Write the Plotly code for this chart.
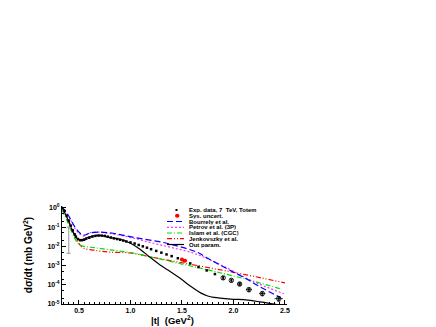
import plotly.graph_objects as go

# |t| in GeV^2, dsigma/dt in mb/GeV^2
exp_t = [0.36, 0.38, 0.40, 0.42, 0.44, 0.46, 0.47, 0.49, 0.51, 0.53, 0.55, 0.57, 0.60, 0.63,
         0.66, 0.69, 0.72, 0.75, 0.78, 0.81, 0.84, 0.87, 0.90, 0.93, 0.96, 1.00, 1.04,
         1.08, 1.12, 1.16, 1.20, 1.25, 1.30, 1.35, 1.40, 1.46, 1.52, 1.58, 1.66, 1.74, 1.82]
exp_y = [0.70, 0.40, 0.22, 0.12, 0.068, 0.042, 0.032, 0.024, 0.021, 0.021, 0.022, 0.025,
         0.028, 0.032, 0.035, 0.036, 0.036, 0.035, 0.032, 0.029, 0.026, 0.024, 0.022,
         0.020, 0.018, 0.016, 0.014, 0.0118, 0.0100, 0.0085, 0.0071, 0.0058, 0.0047,
         0.0038, 0.0031, 0.0024, 0.0018, 0.00130, 0.00085, 0.00056, 0.00036]

hi_t = [1.90, 1.98, 2.06, 2.15, 2.28, 2.44]
hi_y = [2.3e-4, 1.7e-4, 1.1e-4, 5.6e-5, 3.5e-5, 1.9e-5]
hi_err = [0.4e-4, 0.3e-4, 0.2e-4, 1.2e-5, 0.8e-5, 0.5e-5]
hi_terr = [0.0, 0.0, 0.02, 0.03, 0.03, 0.04]

gray_t = [0.40]
gray_y = [0.09]
gray_up = [0.01]
gray_dn = [0.0857]

sys_t = [1.50, 1.53]
sys_y = [0.0021, 0.0018]

out_t = [0.335, 0.394, 0.442, 0.481, 0.511, 0.55, 0.589, 0.64, 0.686, 0.74, 0.784, 0.90,
         1.00, 1.096, 1.193, 1.291, 1.389, 1.486, 1.584, 1.681, 1.75, 1.81, 1.974, 2.14,
         2.335, 2.44]
out_y = [1.12, 0.234, 0.055, 0.026, 0.021, 0.024, 0.0295, 0.035, 0.038, 0.035, 0.0295,
         0.0234, 0.0145, 0.0069, 0.0026, 0.00105, 4.8e-4, 2.1e-4, 8.3e-5, 3.8e-5, 2.6e-5,
         2.2e-5, 1.8e-5, 1.6e-5, 1.1e-5, 9.0e-6]

bou_t = [0.335, 0.394, 0.462, 0.511, 0.55, 0.60, 0.686, 0.83, 1.02, 1.35, 1.652, 1.75,
         1.88, 2.02, 2.13, 2.24, 2.46]
bou_y = [1.12, 0.43, 0.10, 0.048, 0.038, 0.048, 0.055, 0.048, 0.030, 0.0145, 0.0048,
         0.0024, 0.0010, 4.0e-4, 2.0e-4, 8.9e-5, 2.1e-5]

pet_t = [0.335, 0.40, 0.462, 0.511, 0.55, 0.60, 0.686, 0.785, 0.99, 1.19, 1.39, 1.62,
         1.89, 2.18, 2.49]
pet_y = [1.12, 0.37, 0.085, 0.042, 0.034, 0.050, 0.055, 0.048, 0.030, 0.016, 0.0089,
         0.0043, 0.0010, 1.6e-4, 3.4e-5]

isl_t = [0.335, 0.40, 0.45, 0.50, 0.55, 0.65, 0.80, 1.00, 1.20, 1.50, 1.80, 2.10, 2.45]
isl_y = [0.79, 0.14, 0.032, 0.0126, 0.010, 0.0085, 0.0066, 0.0047, 0.0028, 0.0012,
         5.2e-4, 2.1e-4, 6.3e-5]

jen_t = [0.335, 0.40, 0.45, 0.50, 0.55, 0.65, 0.80, 1.00, 1.20, 1.50, 1.80, 2.10, 2.50]
jen_y = [1.0, 0.22, 0.050, 0.014, 0.0079, 0.0063, 0.0050, 0.0045, 0.0028, 0.0014,
         7.1e-4, 3.5e-4, 1.26e-4]

# the page body adds an 8px margin, so the figure is laid out 8px up/left
OFF = 8
W, H = 436 - OFF, 327 - OFF
L, R, T, B = 62 - OFF, 287 - OFF, 206 - OFF, 304 - OFF


def px(x):
    return (x - OFF - L) / (R - L)


def py(y):
    return (B - (y - OFF)) / (B - T)


DASH_BOU = "6px,3px"
DASH_PET = "2px,2px"
DASH_ISL = "5px,2px,1px,2px"
DASH_JEN = "5px,2px,1px,2px,1px,2px"
FONT = "Liberation Sans"

fig = go.Figure()

fig.add_trace(go.Scatter(x=jen_t, y=jen_y, mode="lines", line=dict(color="#ff0000", width=1.2, dash=DASH_JEN, shape="spline")))
fig.add_trace(go.Scatter(x=isl_t, y=isl_y, mode="lines", line=dict(color="#00e000", width=1.2, dash=DASH_ISL, shape="spline")))
fig.add_trace(go.Scatter(x=pet_t, y=pet_y, mode="lines", line=dict(color="#ff33ff", width=1.2, dash=DASH_PET, shape="spline")))
fig.add_trace(go.Scatter(x=bou_t, y=bou_y, mode="lines", line=dict(color="#0000ff", width=1.2, dash=DASH_BOU, shape="spline")))
fig.add_trace(go.Scatter(x=out_t, y=out_y, mode="lines", line=dict(color="black", width=1.2, shape="spline")))

fig.add_trace(go.Scatter(x=gray_t, y=gray_y, mode="markers", marker=dict(color="#999999", size=2),
                         error_y=dict(type="data", symmetric=False, array=gray_up, arrayminus=gray_dn,
                                      color="#aaaaaa", thickness=1.2, width=2)))
fig.add_trace(go.Scatter(x=exp_t, y=exp_y, mode="markers",
                         marker=dict(color="black", size=2.5, symbol="square")))
fig.add_trace(go.Scatter(x=sys_t, y=sys_y, mode="markers",
                         marker=dict(color="#ff0000", size=4, symbol="circle")))
fig.add_trace(go.Scatter(x=hi_t, y=hi_y, mode="markers",
                         marker=dict(color="black", size=4.5, symbol="circle-open", line=dict(width=0.8)),
                         error_y=dict(type="data", array=hi_err, color="black", thickness=0.8, width=1.5),
                         error_x=dict(type="data", array=hi_terr, color="black", thickness=0.8, width=0)))
fig.add_trace(go.Scatter(x=hi_t, y=hi_y, mode="markers",
                         marker=dict(color="black", size=2, symbol="square")))

# legend drawn by hand (plotly legend rows are too tall for this size)
legend_rows = [
    ("Exp. data, 7  TeV, Totem", "sq", "black", None),
    ("Sys. uncert.", "ci", "#ff0000", None),
    ("Bourrely et al.", "ln", "#0000ff", DASH_BOU),
    ("Petrov et al. (3P)", "ln", "#ff33ff", DASH_PET),
    ("Islam et al. (CGC)", "ln", "#00e000", DASH_ISL),
    ("Jenkovszky et al.", "ln", "#ff0000", DASH_JEN),
    ("Out param.", "ln", "black", "solid"),
]
rows_y = [210, 215.8, 221.5, 227.3, 233, 238.7, 244.5]
shapes = []
annotations = []
for (label, kind, col, dash), yy in zip(legend_rows, rows_y):
    if kind == "sq":
        shapes.append(dict(type="rect", xref="paper", yref="paper", x0=px(175.5), x1=px(177.5),
                           y0=py(yy + 1), y1=py(yy - 1), fillcolor=col, line=dict(width=0)))
    elif kind == "ci":
        shapes.append(dict(type="circle", xref="paper", yref="paper", x0=px(175), x1=px(179.5),
                           y0=py(yy + 2), y1=py(yy - 2), fillcolor=col, line=dict(width=0)))
    else:
        shapes.append(dict(type="line", xref="paper", yref="paper", x0=px(167), x1=px(184),
                           y0=py(yy), y1=py(yy), line=dict(color=col, width=1.2, dash=dash)))
    annotations.append(dict(text=label, xref="paper", yref="paper", x=px(187), y=py(yy),
                            xanchor="left", yanchor="middle", showarrow=False, height=5.6,
                            font=dict(size=6.0, color="black", family=FONT, weight="bold")))

annotations.append(dict(text="|t|  (GeV<sup>2</sup>)", xref="paper", yref="paper", x=px(172), y=py(320),
                        xanchor="center", yanchor="middle", showarrow=False,
                        font=dict(size=9.5, color="black", family=FONT, weight="bold")))

fig.update_layout(
    width=W, height=H,
    margin=dict(l=L, r=W - R, t=T, b=H - B),
    paper_bgcolor="white", plot_bgcolor="white",
    showlegend=False,
    font=dict(family=FONT, color="black"),
    shapes=shapes, annotations=annotations,
)
fig.update_xaxes(
    range=[0.335, 2.52], showgrid=False, zeroline=False, automargin=False,
    showline=True, linecolor="black", linewidth=1,
    ticks="inside", ticklen=4, tickcolor="black", tickwidth=1,
    tickvals=[0.5, 1.0, 1.5, 2.0, 2.5], ticktext=["0.5", "1.0", "1.5", "2.0", "2.5"],
    tickfont=dict(size=7, weight="bold"), ticklabelstandoff=0,
    minor=dict(ticks="inside", ticklen=2, dtick=0.05, tickcolor="black"),
)
fig.update_yaxes(
    type="log", range=[-5, 0.1], showgrid=False, zeroline=False, automargin=False,
    showline=True, linecolor="black", linewidth=1,
    ticks="inside", ticklen=4, tickcolor="black", tickwidth=1,
    tickvals=[1, 0.1, 0.01, 0.001, 1e-4, 1e-5],
    ticktext=["10<sup>0</sup>", "10<sup>-1</sup>", "10<sup>-2</sup>", "10<sup>-3</sup>",
              "10<sup>-4</sup>", "10<sup>-5</sup>"],
    tickfont=dict(size=7, weight="bold"),
    minor=dict(ticks="inside", ticklen=2, tickcolor="black"),
    title=dict(text="dσ/dt (mb GeV<sup>2</sup>)", font=dict(size=10, weight="bold"), standoff=12),
)

fig.write_html("out.html")
